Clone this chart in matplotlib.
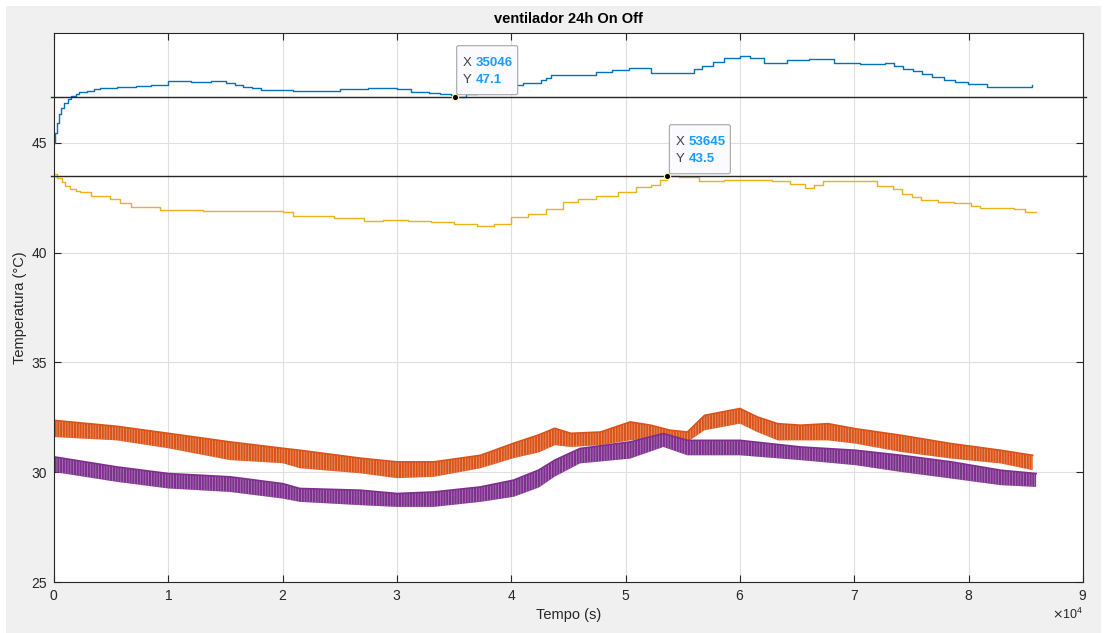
import numpy as np
import matplotlib
matplotlib.use('Agg')
import matplotlib.pyplot as plt
from matplotlib.patches import FancyBboxPatch, Rectangle
from matplotlib.transforms import IdentityTransform

plt.rcParams['font.family'] = ['Liberation Sans', 'DejaVu Sans']
plt.rcParams['hatch.linewidth'] = 0.5

# sensor 1 (azul) - degraus
t_azul = [0, 120, 250, 440, 650, 900, 1200, 1520, 1900, 2200, 2900, 3500, 4000, 5500, 7200, 8500,
          10000, 12000, 13700, 15000, 15800, 16500, 17300, 18100, 20900, 23000, 25000, 27500, 30000,
          31200, 32000, 32800, 33800, 34700, 35046, 36000, 37000, 38000, 39000, 40000, 41000, 42600,
          43000, 43500, 45000, 46400, 47400, 48800, 50300, 51500, 52200, 55400, 56000, 56700, 57600,
          58600, 60000, 60900, 62100, 64100, 66000, 68200, 70500, 72700, 73500, 74300, 75100, 75900,
          76800, 77800, 78800, 79900, 81600, 85400, 85500]
y_azul = [45.0, 45.45, 45.9, 46.3, 46.6, 46.83, 47.0, 47.14, 47.24, 47.3, 47.36, 47.43, 47.49, 47.52,
          47.59, 47.65, 47.8, 47.78, 47.82, 47.74, 47.65, 47.56, 47.48, 47.41, 47.36, 47.38, 47.44,
          47.49, 47.44, 47.33, 47.3, 47.26, 47.22, 47.17, 47.1, 47.2, 47.3, 47.42, 47.55, 47.65, 47.74,
          47.86, 47.95, 48.09, 48.1, 48.09, 48.23, 48.32, 48.42, 48.42, 48.2, 48.2, 48.35, 48.5, 48.68,
          48.85, 48.95, 48.85, 48.65, 48.76, 48.83, 48.65, 48.58, 48.65, 48.52, 48.38, 48.25, 48.12,
          48.0, 47.86, 47.76, 47.67, 47.55, 47.55, 47.64]

# sensor 2 (amarelo)
t_amarelo = [0, 300, 700, 1000, 1400, 1900, 2300, 3200, 4900, 5800, 6700, 9300, 13000, 20000, 20900,
             24500, 27100, 28800, 31000, 33000, 35000, 37000, 38500, 40000, 41500, 43000, 44500, 45800,
             47400, 49300, 50900, 52200, 53000, 53645, 54700, 56400, 58600, 62800, 64400, 65700, 66500,
             67300, 70800, 72000, 73400, 74200, 75000, 75800, 77300, 78700, 80200, 81000, 84000, 84900,
             85900]
y_amarelo = [43.58, 43.4, 43.2, 43.05, 42.9, 42.8, 42.75, 42.59, 42.44, 42.25, 42.09, 41.95, 41.88,
             41.83, 41.68, 41.58, 41.45, 41.49, 41.45, 41.4, 41.3, 41.2, 41.3, 41.6, 41.75, 42.0, 42.3,
             42.44, 42.59, 42.74, 42.97, 43.09, 43.3, 43.5, 43.42, 43.27, 43.32, 43.27, 43.12, 42.94,
             43.1, 43.27, 43.27, 43.05, 42.9, 42.67, 42.52, 42.4, 42.32, 42.24, 42.14, 42.03, 41.98,
             41.86, 41.86]

# sensor 3 (laranja) - faixa on/off: topo e fundo
t_laranja = [0, 5500, 10000, 15400, 20000, 21500, 26800, 30000, 33200, 37300, 40200, 42400, 43800,
             45200, 47800, 50400, 52200, 53900, 55400, 56900, 60000, 61500, 63300, 65300, 67700,
             70100, 74100, 78500, 82800, 85600]
topo_laranja = [32.36, 32.09, 31.77, 31.38, 31.09, 31.0, 30.64, 30.47, 30.47, 30.77, 31.32, 31.7, 32.0,
                31.77, 31.83, 32.29, 32.14, 31.91, 31.83, 32.59, 32.9, 32.52, 32.21, 32.14, 32.21,
                31.98, 31.68, 31.3, 31.0, 30.77]
fundo_laranja = [31.6, 31.45, 31.09, 30.55, 30.41, 30.18, 29.95, 29.73, 29.79, 30.18, 30.64, 30.9, 31.23,
                 31.15, 31.23, 31.45, 31.55, 31.3, 31.38, 31.91, 32.21, 31.83, 31.45, 31.45, 31.45,
                 31.3, 30.92, 30.62, 30.4, 30.09]

# sensor 4 (roxo)
t_roxo = [0, 5500, 10000, 15400, 20000, 21500, 26800, 30000, 33200, 37300, 40200, 42400, 43800,
          46000, 50400, 53300, 55400, 60000, 65300, 70100, 74100, 78500, 82800, 85900]
topo_roxo = [30.7, 30.24, 29.94, 29.79, 29.48, 29.26, 29.18, 29.03, 29.1, 29.33, 29.64, 30.1, 30.55,
             31.08, 31.38, 31.76, 31.45, 31.45, 31.15, 31.0, 30.77, 30.47, 30.09, 29.94]
fundo_roxo = [30.01, 29.56, 29.26, 29.1, 28.8, 28.65, 28.5, 28.42, 28.42, 28.65, 28.88, 29.3, 29.8,
              30.4, 30.62, 31.15, 30.77, 30.77, 30.55, 30.32, 30.01, 29.71, 29.41, 29.33]

# data tips
tips = [(35046, 47.1, '35046', '47.1'), (53645, 43.5, '53645', '43.5')]

AZUL, LARANJA, AMARELO, ROXO = '#0072BD', '#D95319', '#EDB120', '#7E2F8E'
ESCURO = '#262626'

fig = plt.figure(figsize=(11.15, 6.33), dpi=100, facecolor='white')
fig.add_artist(Rectangle((6 / 1115, 0), 1095 / 1115, 627 / 633, transform=fig.transFigure,
                         facecolor='#f0f0f0', edgecolor='none', zorder=-10))
ax = fig.add_axes([54 / 1115, 51 / 633, 1029 / 1115, 549 / 633])

ax.plot(t_azul, y_azul, color=AZUL, lw=1.0, drawstyle='steps-post')
ax.plot(t_amarelo, y_amarelo, color=AMARELO, lw=1.0, drawstyle='steps-post')
ax.fill_between(t_laranja, fundo_laranja, topo_laranja, facecolor=LARANJA, edgecolor='#eea27f',
                hatch='||||||', lw=0)
ax.plot(t_laranja, topo_laranja, color=LARANJA, lw=1.2)
ax.fill_between(t_roxo, fundo_roxo, topo_roxo, facecolor=ROXO, edgecolor='#b488bd',
                hatch='||||||', lw=0)
ax.plot(t_roxo, topo_roxo, color=ROXO, lw=1.2)

for xt, yt, _, _ in tips:
    ax.axhline(yt, color=ESCURO, lw=1.0, xmin=-0.003, xmax=1.003, clip_on=False)

ax.set_xlim(0, 90000)
ax.set_ylim(25, 50)
ax.set_xticks(np.arange(0, 90001, 10000))
ax.set_yticks([25, 30, 35, 40, 45])
ax.ticklabel_format(style='sci', axis='x', scilimits=(0, 0), useMathText=True)
ax.xaxis.get_offset_text().set_fontsize(9)
ax.xaxis.get_offset_text().set_color(ESCURO)
ax.tick_params(direction='in', length=5, width=0.8, top=True, right=True, labelsize=10,
               colors=ESCURO, pad=5)
ax.grid(True, color='#dfdfdf', lw=0.8)
ax.set_axisbelow(True)
for s in ax.spines.values():
    s.set_color(ESCURO)
    s.set_linewidth(0.8)

ax.set_title('ventilador 24h On Off', fontsize=10.5, fontweight='bold', pad=7)
ax.set_xlabel('Tempo (s)', fontsize=10.5, color=ESCURO, labelpad=4)
ax.set_ylabel('Temperatura (°C)', fontsize=10.5, color=ESCURO, labelpad=3)

# caixas de data tip em pixels
idt = IdentityTransform()
for xt, yt, sx, sy in tips:
    ax.plot([xt], [yt], 'o', ms=4.5, mfc='black', mec='#fff6b0', mew=0.8, zorder=6)
    px, py = ax.transData.transform((xt, yt))
    fig.add_artist(FancyBboxPatch((px + 2, py + 2), 61, 49, boxstyle='round,pad=0,rounding_size=2',
                                  transform=idt, facecolor='#fbfbff', edgecolor='#a6a6a6',
                                  lw=0.8, zorder=7))
    for dy, lab, val in [(34, 'X', sx), (17, 'Y', sy)]:
        fig.text(px + 8, py + dy, lab, transform=idt, fontsize=9.5, color='#404040',
                 va='center', ha='left', zorder=8)
        fig.text(px + 21, py + dy, val, transform=idt, fontsize=9.5, color='#1a9bff',
                 fontweight='bold', va='center', ha='left', zorder=8)

fig.savefig('out.png', dpi=100)
